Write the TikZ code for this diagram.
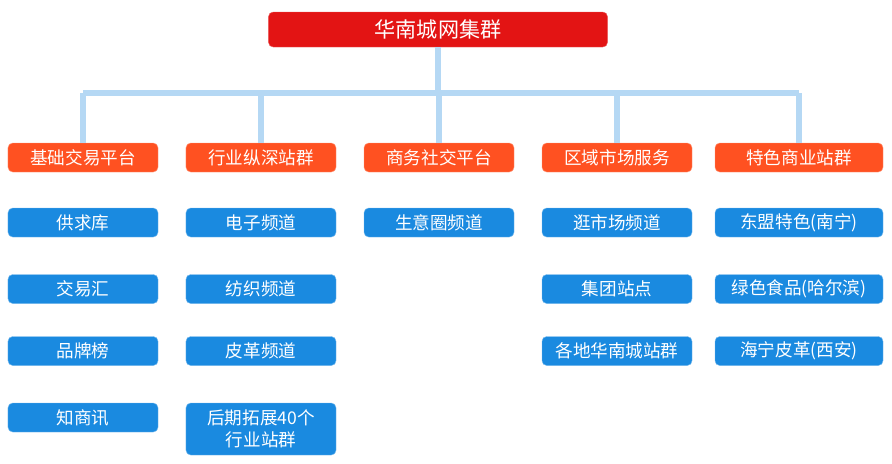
\documentclass[tikz,border=0pt]{standalone}
\usepackage{fontspec}
\setmainfont{Noto Sans CJK SC}
\definecolor{rootred}{HTML}{E31414}
\definecolor{catorange}{HTML}{FF5121}
\definecolor{itemblue}{HTML}{1A8AE0}
\definecolor{buslight}{HTML}{B5D8F4}
\begin{document}
\begin{tikzpicture}[x=0.03cm,y=-0.03cm,
    box/.style={rounded corners=4pt, text=white, inner sep=0pt, minimum width=4.5cm, minimum height=0.87cm, font=\fontsize{15}{19}\selectfont},
    root/.style={box, fill=rootred, draw=rootred!70!white, minimum width=10.17cm, minimum height=1.05cm, font=\fontsize{18}{22}\selectfont},
    cat/.style={box, fill=catorange, draw=catorange!60!white},
    item/.style={box, fill=itemblue, draw=itemblue!60!white},
    wide/.style={minimum width=5.04cm},
    bus/.style={buslight, line width=4.5pt}]
  \useasboundingbox (0,0) rectangle (892,463);
  % top
  \node[root] (top) at (438,29.5) {华南城网集群};
  % categories
  \node[cat] (cat1) at (83,157.5) {基础交易平台};
  \node[cat] (cat2) at (261,157.5) {行业纵深站群};
  \node[cat] (cat3) at (439,157.5) {商务社交平台};
  \node[cat] (cat4) at (617,157.5) {区域市场服务};
  \node[cat, wide] (cat5) at (799,157.5) {特色商业站群};
  % connectors
  \coordinate (hub) at (438,93);
  \draw[bus] (top.south) -- (hub);
  \draw[bus] (cat1.north |- hub) -- (cat5.north |- hub);
  \foreach \i in {1,...,5} \draw[bus] (cat\i.north |- hub) -- (cat\i.north);
  % column 1
  \node[item] (a1) at (83,222.5) {供求库};
  \node[item] (a2) at (83,289) {交易汇};
  \node[item] (a3) at (83,351) {品牌榜};
  \node[item] (a4) at (83,417.5) {知商讯};
  % column 2
  \node[item] (b1) at (261,222.5) {电子频道};
  \node[item] (b2) at (261,289) {纺织频道};
  \node[item] (b3) at (261,351) {皮革频道};
  \node[item, minimum height=1.56cm, align=center] (b4) at (261,429) {后期拓展40个\\行业站群};
  % column 3
  \node[item] (c1) at (439,222.5) {生意圈频道};
  % column 4
  \node[item] (d1) at (617,222.5) {逛市场频道};
  \node[item] (d2) at (617,289) {集团站点};
  \node[item] (d3) at (617,351) {各地华南城站群};
  % column 5
  \node[item, wide] (e1) at (799,222.5) {东盟特色(南宁)};
  \node[item, wide] (e2) at (799,289) {绿色食品(哈尔滨)};
  \node[item, wide] (e3) at (799,351) {海宁皮革(西安)};
\end{tikzpicture}
\end{document}
